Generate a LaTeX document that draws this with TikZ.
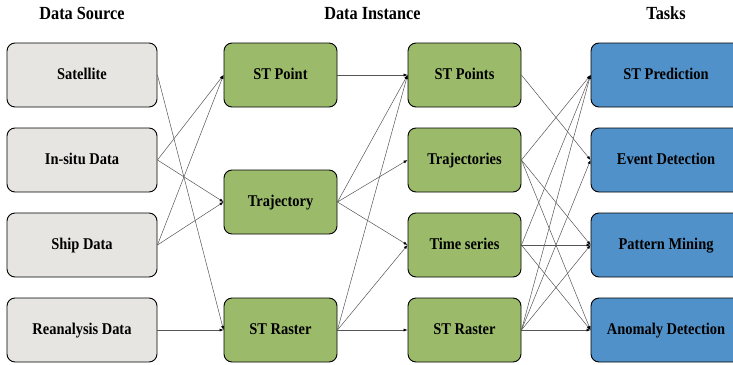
\documentclass[tikz,border=0pt]{standalone}
\usepackage{fontspec}
\setmainfont[FakeStretch=0.88]{Liberation Serif}
\usetikzlibrary{arrows.meta}
\definecolor{srcgray}{HTML}{E6E5E1}
\definecolor{insgreen}{HTML}{9BBB6B}
\definecolor{taskblue}{HTML}{5191C9}
\definecolor{edgegray}{HTML}{555555}
\tikzset{
 box/.style={draw=black, line width=0.9pt, rounded corners=8pt, minimum height=64pt, font=\fontsize{16.4}{18}\selectfont\bfseries, inner sep=0pt, text height=0.8em, text depth=0pt},
 srcbox/.style={box, fill=srcgray, minimum width=150pt},
 insbox/.style={box, fill=insgreen, minimum width=113pt},
 taskbox/.style={box, fill=taskblue, minimum width=150pt},
 header/.style={font=\fontsize{18.5}{20}\selectfont\bfseries, anchor=base, inner sep=0pt},
 link/.style={draw=edgegray, line width=0.5pt, -{Latex[length=4pt,width=3pt,color=black]}},
}
\begin{document}
\begin{tikzpicture}[x=1pt,y=-1pt]
\useasboundingbox (0,0) rectangle (733,364);
% headers
\node[header] (h1) at (82,19) {Data Source};
\node[header] (h2) at (372.5,19) {Data Instance};
\node[header] (h3) at (666,19) {Tasks};
% sources
\node[srcbox] (sat) at (82,75) {Satellite};
\node[srcbox] (insitu) at (82,160) {In-situ Data};
\node[srcbox] (ship) at (82,245) {Ship Data};
\node[srcbox] (rea) at (82,330) {Reanalysis Data};
% instance col 1
\node[insbox] (pt) at (280.5,75) {ST Point};
\node[insbox] (traj) at (280.5,202) {Trajectory};
\node[insbox] (rast) at (280.5,330) {ST Raster};
% instance col 2
\node[insbox] (pts) at (464.5,75) {ST Points};
\node[insbox] (trajs) at (464.5,160) {Trajectories};
\node[insbox] (ts) at (464.5,245) {Time series};
\node[insbox] (rast2) at (464.5,330) {ST Raster};
% tasks
\node[taskbox] (pred) at (666,75) {ST Prediction};
\node[taskbox] (event) at (666,160) {Event Detection};
\node[taskbox] (pattern) at (666,245) {Pattern Mining};
\node[taskbox] (anom) at (666,330) {Anomaly Detection};
% source -> instance
\draw[link] (sat.east) -- (rast.west);
\draw[link] (insitu.east) -- (pt.west);
\draw[link] (insitu.east) -- (traj.west);
\draw[link] (ship.east) -- (pt.west);
\draw[link] (ship.east) -- (traj.west);
\draw[link] (rea.east) -- (rast.west);
% instance -> instance
\draw[link] (pt.east) -- (pts.west);
\draw[link] (traj.east) -- (pts.west);
\draw[link] (traj.east) -- (trajs.west);
\draw[link] (traj.east) -- (ts.west);
\draw[link] (rast.east) -- (pts.west);
\draw[link] (rast.east) -- (ts.west);
\draw[link] (rast.east) -- (rast2.west);
% instance -> tasks
\draw[link] (pts.east) -- (event.west);
\draw[link] (trajs.east) -- (pred.west);
\draw[link] (trajs.east) -- (pattern.west);
\draw[link] (trajs.east) -- (anom.west);
\draw[link] (ts.east) -- (pred.west);
\draw[link] (ts.east) -- (pattern.west);
\draw[link] (ts.east) -- (anom.west);
\draw[link] (rast2.east) -- (pred.west);
\draw[link] (rast2.east) -- (event.west);
\draw[link] (rast2.east) -- (pattern.west);
\draw[link] (rast2.east) -- (anom.west);
\end{tikzpicture}
\end{document}
